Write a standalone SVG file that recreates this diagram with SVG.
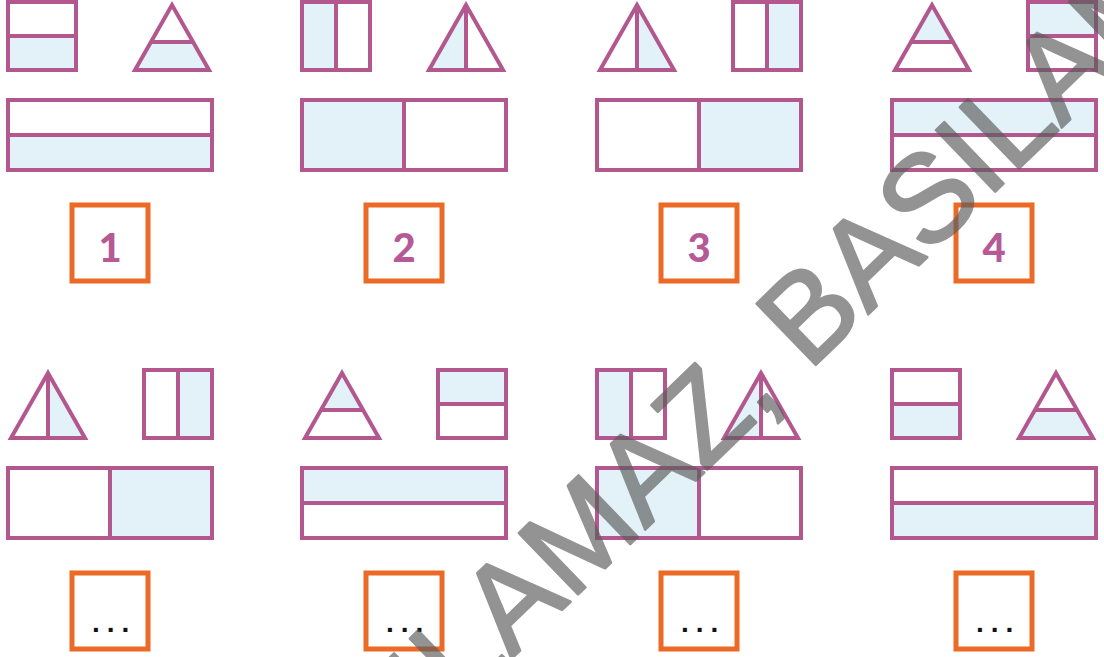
<svg xmlns="http://www.w3.org/2000/svg" width="1104" height="657" viewBox="0 0 1104 657">
<style>
.o{fill:none;stroke:#b3578f;stroke-width:4;stroke-linejoin:miter}
.f{fill:#e2f2f8;stroke:none}
.box{fill:#ffffff;stroke:#ea6a26;stroke-width:5}
.num{font-family:Lato,"Liberation Sans",sans-serif;font-weight:900;font-size:40px;fill:#b65a97;text-anchor:middle}
.dots{font-family:"Liberation Sans",Arial,sans-serif;font-size:28px;font-weight:bold;fill:#111;letter-spacing:7px}
.wm{font-family:"Liberation Sans",Arial,sans-serif;font-size:124px;fill:#5c5c5c;stroke:#5c5c5c;stroke-width:2.5;stroke-linejoin:round}
</style>
<rect width="1104" height="657" fill="#ffffff"/>

<g id="panel1" transform="translate(6,0)">
  <rect class="f" x="2" y="36" width="68" height="34"/>
  <rect class="o" x="2" y="2" width="68" height="68"/>
  <line class="o" x1="2" y1="36" x2="70" y2="36"/>
  <polygon class="f" points="145.2,42 186.8,42 203,70 129,70"/>
  <polygon class="o" points="166,5 129,70 203,70"/>
  <line class="o" x1="145.2" y1="42" x2="186.8" y2="42"/>
  <rect class="f" x="2" y="135" width="204" height="35"/>
  <rect class="o" x="2" y="100" width="204" height="70"/>
  <line class="o" x1="2" y1="135" x2="206" y2="135"/>
  <rect class="box" x="66" y="205" width="76" height="76"/>
  <text class="num" x="104" y="262">1</text>
</g>

<g id="panel2" transform="translate(300,0)">
  <rect class="f" x="2" y="2" width="34" height="68"/>
  <rect class="o" x="2" y="2" width="68" height="68"/>
  <line class="o" x1="36" y1="2" x2="36" y2="70"/>
  <polygon class="f" points="166,5 129,70 166,70"/>
  <polygon class="o" points="166,5 129,70 203,70"/>
  <line class="o" x1="166" y1="5" x2="166" y2="70"/>
  <rect class="f" x="2" y="100" width="102" height="70"/>
  <rect class="o" x="2" y="100" width="204" height="70"/>
  <line class="o" x1="104" y1="100" x2="104" y2="170"/>
  <rect class="box" x="66" y="205" width="76" height="76"/>
  <text class="num" x="104" y="262">2</text>
</g>

<g id="panel3" transform="translate(595,0)">
  <polygon class="f" points="42,5 42,70 79,70"/>
  <polygon class="o" points="42,5 5,70 79,70"/>
  <line class="o" x1="42" y1="5" x2="42" y2="70"/>
  <rect class="f" x="172" y="2" width="34" height="68"/>
  <rect class="o" x="138" y="2" width="68" height="68"/>
  <line class="o" x1="172" y1="2" x2="172" y2="70"/>
  <rect class="f" x="104" y="100" width="102" height="70"/>
  <rect class="o" x="2" y="100" width="204" height="70"/>
  <line class="o" x1="104" y1="100" x2="104" y2="170"/>
  <rect class="box" x="66" y="205" width="76" height="76"/>
  <text class="num" x="104" y="262">3</text>
</g>

<g id="panel4" transform="translate(890,0)">
  <polygon class="f" points="42,5 21.2,42 62.8,42"/>
  <polygon class="o" points="42,5 5,70 79,70"/>
  <line class="o" x1="21.2" y1="42" x2="62.8" y2="42"/>
  <rect class="f" x="138" y="2" width="68" height="34"/>
  <rect class="o" x="138" y="2" width="68" height="68"/>
  <line class="o" x1="138" y1="36" x2="206" y2="36"/>
  <rect class="f" x="2" y="100" width="204" height="35"/>
  <rect class="o" x="2" y="100" width="204" height="70"/>
  <line class="o" x1="2" y1="135" x2="206" y2="135"/>
  <rect class="box" x="66" y="205" width="76" height="76"/>
  <text class="num" x="104" y="262">4</text>
</g>

<g id="panel5" transform="translate(6,368)">
  <polygon class="f" points="42,5 42,70 79,70"/>
  <polygon class="o" points="42,5 5,70 79,70"/>
  <line class="o" x1="42" y1="5" x2="42" y2="70"/>
  <rect class="f" x="172" y="2" width="34" height="68"/>
  <rect class="o" x="138" y="2" width="68" height="68"/>
  <line class="o" x1="172" y1="2" x2="172" y2="70"/>
  <rect class="f" x="104" y="100" width="102" height="70"/>
  <rect class="o" x="2" y="100" width="204" height="70"/>
  <line class="o" x1="104" y1="100" x2="104" y2="170"/>
  <rect class="box" x="66" y="205" width="76" height="76"/>
  <text class="dots" x="86" y="264">...</text>
</g>

<g id="panel6" transform="translate(300,368)">
  <polygon class="f" points="42,5 21.2,42 62.8,42"/>
  <polygon class="o" points="42,5 5,70 79,70"/>
  <line class="o" x1="21.2" y1="42" x2="62.8" y2="42"/>
  <rect class="f" x="138" y="2" width="68" height="34"/>
  <rect class="o" x="138" y="2" width="68" height="68"/>
  <line class="o" x1="138" y1="36" x2="206" y2="36"/>
  <rect class="f" x="2" y="100" width="204" height="35"/>
  <rect class="o" x="2" y="100" width="204" height="70"/>
  <line class="o" x1="2" y1="135" x2="206" y2="135"/>
  <rect class="box" x="66" y="205" width="76" height="76"/>
  <text class="dots" x="86" y="264">...</text>
</g>

<g id="panel7" transform="translate(595,368)">
  <rect class="f" x="2" y="2" width="34" height="68"/>
  <rect class="o" x="2" y="2" width="68" height="68"/>
  <line class="o" x1="36" y1="2" x2="36" y2="70"/>
  <polygon class="f" points="166,5 129,70 166,70"/>
  <polygon class="o" points="166,5 129,70 203,70"/>
  <line class="o" x1="166" y1="5" x2="166" y2="70"/>
  <rect class="f" x="2" y="100" width="102" height="70"/>
  <rect class="o" x="2" y="100" width="204" height="70"/>
  <line class="o" x1="104" y1="100" x2="104" y2="170"/>
  <rect class="box" x="66" y="205" width="76" height="76"/>
  <text class="dots" x="86" y="264">...</text>
</g>

<g id="panel8" transform="translate(890,368)">
  <rect class="f" x="2" y="36" width="68" height="34"/>
  <rect class="o" x="2" y="2" width="68" height="68"/>
  <line class="o" x1="2" y1="36" x2="70" y2="36"/>
  <polygon class="f" points="145.2,42 186.8,42 203,70 129,70"/>
  <polygon class="o" points="166,5 129,70 203,70"/>
  <line class="o" x1="145.2" y1="42" x2="186.8" y2="42"/>
  <rect class="f" x="2" y="135" width="204" height="35"/>
  <rect class="o" x="2" y="100" width="204" height="70"/>
  <line class="o" x1="2" y1="135" x2="206" y2="135"/>
  <rect class="box" x="66" y="205" width="76" height="76"/>
  <text class="dots" x="86" y="264">...</text>
</g>

<g id="watermark" opacity="0.66">
  <text class="wm" transform="translate(270,892) rotate(-44)">SATILAMAZ, BASILAMAZ</text>
</g>
</svg>
